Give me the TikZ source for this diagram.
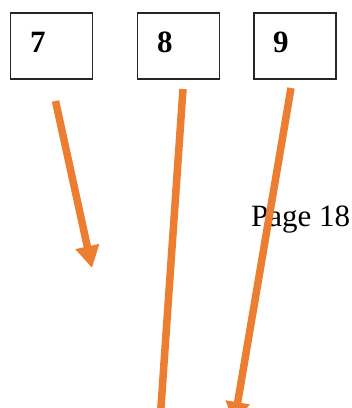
\documentclass[tikz,border=0pt]{standalone}
\usepackage{fontspec}
\setmainfont{Liberation Serif}
\usetikzlibrary{arrows.meta}
\definecolor{arr}{HTML}{ED7D31}
\begin{document}
\begin{tikzpicture}[x=1pt,y=-1pt,
 box/.style={draw=black!85,line width=1.3pt,minimum width=82pt,minimum height=66pt,inner sep=0pt,anchor=north west},
 num/.style={font=\fontsize{31}{31}\selectfont\bfseries,anchor=west,inner sep=0pt},
 pagetxt/.style={font=\fontsize{31}{31}\selectfont,anchor=base west,inner sep=0pt},
 orarrow/.style={draw=arr,line width=7.5pt,-{Triangle[width=23pt,length=22pt]}}]
\useasboundingbox (0,0) rectangle (352,408);
\clip (0,0) rectangle (352,408);
\node[box] (b7) at (10,12.3) {};
\node[box] (b8) at (137,12.3) {};
\node[box] (b9) at (253.3,12.3) {};
\node[num] (t7) at (30,42) {7};
\node[num] (t8) at (157,42) {8};
\node[num] (t9) at (273,42) {9};
\node[pagetxt] (pg) at (251,226) {Page 18};
\coordinate (s1) at (55.5,101);
\coordinate (e1) at (92,268);
\coordinate (s2) at (183,89);
\coordinate (e2) at (158,450);
\coordinate (s3) at (291,88);
\coordinate (e3) at (234,424);
\draw[orarrow] (s1) -- (e1);
\draw[orarrow] (s2) -- (e2);
\draw[orarrow] (s3) -- (e3);
\end{tikzpicture}
\end{document}
